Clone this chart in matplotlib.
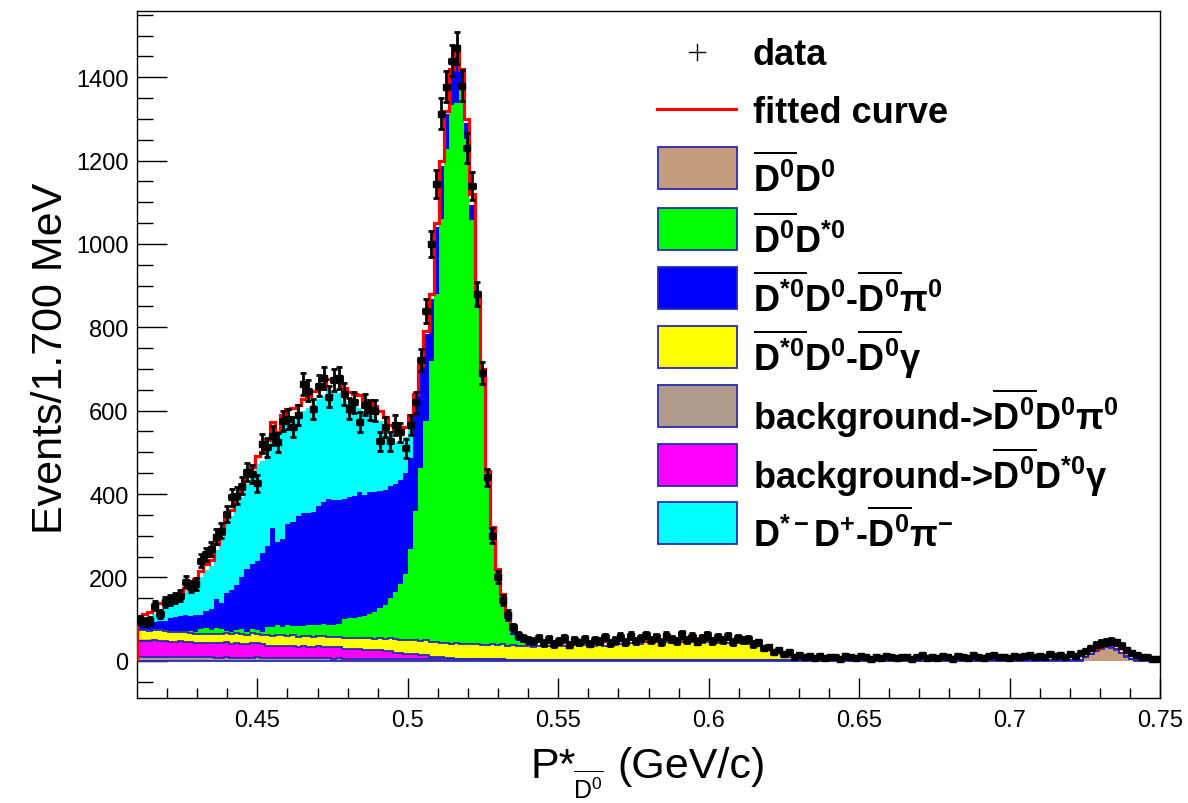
import numpy as np
import matplotlib
matplotlib.use("Agg")
import matplotlib.pyplot as plt
from matplotlib.patches import Rectangle
from matplotlib.lines import Line2D

# ---------------- data (200 bins of 1.7 MeV, 0.41 - 0.75 GeV/c) ----------------
x_lo, x_hi, n_bins = 0.41, 0.75, 200

fit_curve = [
    108, 112, 118, 130, 138, 143, 148, 155, 162, 175,
    182, 196, 215, 232, 242, 280, 305, 345, 362, 392,
    412, 445, 465, 490, 500, 530, 572, 548, 590, 604,
    606, 614, 628, 636, 648, 652, 660, 676, 676, 670,
    655, 645, 640, 638, 625, 618, 612, 598, 585, 565,
    552, 548, 560, 590, 640, 710, 790, 880, 1050, 1200,
    1320, 1420, 1465, 1420, 1300, 1120, 880, 700, 455, 320,
    220, 160, 115, 75, 58, 53, 52, 50, 48, 47,
    46, 45, 46, 44, 45, 46, 45, 47, 46, 45,
    46, 47, 45, 48, 50, 52, 51, 53, 52, 50,
    52, 53, 51, 52, 54, 53, 52, 51, 53, 54,
    52, 53, 54, 52, 51, 53, 52, 50, 47, 46,
    44, 38, 33, 28, 24, 20, 17, 14, 12, 11,
    10, 9, 9, 9, 8, 9, 8, 8, 9, 8,
    8, 8, 9, 8, 8, 8, 7, 8, 8, 8,
    8, 7, 8, 8, 9, 8, 8, 7, 8, 8,
    9, 10, 9, 9, 9, 8, 9, 10, 10, 9,
    9, 9, 10, 9, 10, 10, 10, 11, 11, 12,
    12, 12, 13, 14, 16, 20, 26, 31, 36, 40,
    42, 38, 30, 22, 15, 11, 9, 8, 7, 6]

data_counts = [
    98, 92, 96, 132, 112, 140, 146, 150, 156, 190,
    178, 184, 240, 255, 268, 298, 312, 352, 392, 396,
    420, 452, 448, 426, 520, 512, 540, 524, 576, 580,
    560, 590, 664, 648, 604, 660, 678, 633, 673, 678,
    640, 605, 620, 572, 614, 602, 600, 526, 560, 526,
    566, 548, 510, 566, 620, 722, 840, 1000, 1144, 1313,
    1377, 1440, 1470, 1380, 1230, 1140, 880, 690, 440, 300,
    200, 145, 110, 80, 62, 55, 50, 48, 55, 42,
    52, 40, 48, 55, 38, 50, 44, 53, 41, 49,
    47, 56, 42, 50, 58, 45, 60, 48, 55, 62,
    49, 57, 44, 60, 52, 47, 63, 50, 58, 46,
    55, 61, 48, 57, 50, 59, 45, 54, 49, 52,
    40, 44, 30, 33, 20, 26, 15, 20, 10, 14,
    8, 12, 7, 11, 6, 10, 9, 5, 12, 8,
    6, 11, 9, 5, 10, 7, 12, 8, 6, 9,
    10, 5, 8, 13, 7, 9, 6, 11, 8, 5,
    12, 9, 7, 14, 10, 6, 11, 13, 8, 10,
    7, 12, 9, 11, 14, 8, 12, 10, 15, 11,
    13, 10, 16, 12, 18, 24, 30, 38, 42, 45,
    48, 44, 36, 26, 18, 13, 10, 8, 5, 3]

# D0bar D0 (brown)
d0bar_d0 = [0] * 185 + [8, 16, 24, 29, 32, 31, 26, 18, 10, 4] + [0] * 5

# background -> D0bar D0 pi0 (grey-brown)
bkg_d0d0pi0 = [
    10, 10, 9, 10, 10, 9, 10, 9, 9, 10,
    9, 9, 8, 9, 8, 7, 7, 8, 7, 7,
    6, 7, 7, 8, 7, 7, 6, 7, 7, 6,
    7, 6, 7, 6, 6, 7, 6, 6, 5, 6,
    5, 4, 5, 4, 4, 5, 4, 4, 4, 3,
    4, 4, 3, 4, 3, 3, 4, 3, 3, 3,
    3, 3, 3, 3, 2, 3, 3, 2, 3, 2,
    2, 3, 2, 2, 2, 2, 2, 2, 2, 2,
    2, 2, 1, 2, 2, 2, 1, 2, 2, 2,
    2, 1, 2, 2, 2, 1, 2, 2, 1, 2,
    2, 2, 1, 2, 2, 1, 2, 2, 2, 1,
    2, 2, 1, 2, 1, 2, 2, 1, 2, 1,
    1, 2, 1, 1, 2, 1, 1, 1, 2, 1,
    1, 1, 1, 2, 1, 1, 1, 1, 1, 1,
    1, 1, 2, 1, 1, 1, 1, 1, 1, 1,
    1, 1, 1, 1, 1, 2, 1, 1, 1, 1,
    1, 1, 1, 1, 1, 1, 1, 2, 1, 1,
    1, 1, 1, 1, 1, 1, 1, 1, 1, 1,
    1, 1, 1, 1, 1, 1, 1, 1, 1, 1,
    1, 1, 1, 1, 1, 1, 1, 1, 1, 1]

# background -> D0bar D*0 gamma (magenta)
bkg_d0dst0gamma = [
    38, 37, 38, 39, 37, 38, 36, 37, 38, 36,
    35, 34, 35, 33, 34, 36, 35, 37, 34, 36,
    35, 33, 35, 34, 33, 29, 30, 28, 29, 30,
    28, 27, 29, 28, 27, 29, 28, 27, 28, 26,
    23, 24, 22, 23, 22, 21, 22, 21, 20, 21,
    15, 14, 13, 13, 12, 11, 10, 7, 6, 5,
    4, 3, 2, 2, 2, 1, 1, 1, 1, 1,
    1] + [0] * 129

# D*0bar D0 - D0bar gamma (yellow)
dst0_gamma = [
    25, 26, 24, 25, 26, 24, 22, 23, 21, 22,
    23, 22, 21, 23, 22, 22, 23, 21, 22, 24,
    23, 22, 24, 23, 22, 25, 24, 26, 25, 24,
    26, 25, 24, 26, 25, 24, 25, 23, 24, 25,
    26, 27, 28, 27, 29, 28, 27, 29, 28, 30,
    32, 31, 33, 32, 34, 33, 35, 34, 36, 35,
    36, 35, 37, 36, 35, 37, 36, 35, 34, 36,
    35, 36, 34, 35, 33, 34, 33, 32, 34, 33,
    33, 34, 35, 34, 33, 35, 34, 36, 35, 34,
    36, 35, 37, 36, 38, 39, 40, 41, 39, 42,
    41, 43, 40, 42, 41, 43, 42, 40, 43, 42,
    41, 42, 43, 41, 42, 40, 42, 41, 40, 39,
    36, 33, 29, 25, 21, 17, 12, 8, 4, 1] + [0] * 70

# D0bar D*0 (green)
d0bar_dst0 = [
    2, 2, 3, 2, 3, 2, 3, 3, 2, 3,
    4, 4, 12, 14, 10, 13, 11, 6, 5, 7,
    12, 8, 10, 9, 8, 20, 22, 24, 21, 25,
    23, 26, 24, 25, 27, 26, 28, 30, 29, 32,
    45, 47, 48, 50, 52, 58, 64, 72, 82, 96,
    115, 135, 160, 218, 311, 415, 527, 675, 835, 1018,
    1184, 1293, 1297, 1332, 1212, 1017, 807, 640, 387, 260,
    162, 102, 57, 25, 12, 7, 3, 2, 1, 1] + [0] * 120

# D*0bar D0 - D0bar pi0 (blue)
dst0_pi0 = [
    11, 13, 14, 17, 20, 23, 32, 34, 37, 38,
    37, 41, 33, 41, 51, 70, 62, 91, 102, 108,
    125, 149, 157, 166, 189, 195, 237, 199, 210, 244,
    248, 263, 271, 270, 272, 285, 295, 301, 299, 297,
    288, 292, 293, 301, 291, 293, 287, 281, 275, 269,
    258, 250, 242, 219, 234, 240, 208, 150, 160, 127,
    86, 77, 110, 40, 40, 35, 28, 22, 18, 15,
    12, 10, 8, 5, 4, 3, 2, 2, 1, 1] + [0] * 120

# D*- D+ - D0bar pi- (cyan)
dstm_dp = [
    0, 3, 8, 18, 28, 37, 38, 43, 48, 59,
    62, 72, 91, 98, 102, 118, 155, 171, 178, 200,
    192, 205, 215, 232, 220, 236, 234, 246, 280, 256,
    246, 236, 244, 252, 260, 256, 252, 260, 263, 256,
    237, 221, 214, 202, 201, 189, 183, 167, 150, 122,
    101, 85, 85, 80, 30, 5] + [0] * 144

xtick_values = [0.45, 0.5, 0.55, 0.6, 0.65, 0.7, 0.75]
xtick_labels = ["0.45", "0.5", "0.55", "0.6", "0.65", "0.7", "0.75"]
ytick_values = [0, 200, 400, 600, 800, 1000, 1200, 1400]

legend_labels = [
    r"$\mathbf{\overline{D^{0}}D^{0}}$",
    r"$\mathbf{\overline{D^{0}}D^{*0}}$",
    r"$\mathbf{\overline{D^{*0}}D^{0}}$-$\mathbf{\overline{D^{0}}}$π$^{\mathbf{0}}$",
    r"$\mathbf{\overline{D^{*0}}D^{0}}$-$\mathbf{\overline{D^{0}}}$γ",
    r"background->$\mathbf{\overline{D^{0}}D^{0}}$π$^{\mathbf{0}}$",
    r"background->$\mathbf{\overline{D^{0}}D^{*0}}$γ",
    r"D$^{\mathbf{*-}}$D$^{\mathbf{+}}$-$\mathbf{\overline{D^{0}}}$π$^{\mathbf{-}}$",
]

# ---------------- style ----------------
plt.rcParams["font.family"] = ["Liberation Sans", "DejaVu Sans"]
plt.rcParams["mathtext.fontset"] = "custom"
plt.rcParams["mathtext.rm"] = "Liberation Sans"
plt.rcParams["mathtext.it"] = "Liberation Sans:italic"
plt.rcParams["mathtext.bf"] = "Liberation Sans:bold"
plt.rcParams["mathtext.sf"] = "Liberation Sans"

W, H = 1188, 804
fig = plt.figure(figsize=(W / 100, H / 100), dpi=100)
ax_l, ax_r, ax_t, ax_b = 137, 1160, 12, 699
ax = fig.add_axes([ax_l / W, 1 - ax_b / H, (ax_r - ax_l) / W, (ax_b - ax_t) / H])

edges = np.linspace(x_lo, x_hi, n_bins + 1)
centers = 0.5 * (edges[:-1] + edges[1:])
bw = edges[1] - edges[0]

navy = "#2a2ab4"
layers = [
    (d0bar_d0, "#c69c7e", True),
    (bkg_d0d0pi0, "#b09a8c", True),
    (bkg_d0dst0gamma, "#ff00ff", True),
    (dst0_gamma, "#ffff00", True),
    (d0bar_dst0, "#00ff00", False),
    (dst0_pi0, "#0000ff", False),
    (dstm_dp, "#00ffff", False),
]
cum = np.zeros(n_bins)
tops = []
for vals, col, outl in layers:
    top = cum + np.asarray(vals, float)
    ax.stairs(top, edges, baseline=cum, fill=True, color=col, lw=0, zorder=1)
    tops.append((top.copy(), outl))
    cum = top
for top, outl in tops:
    if outl:
        ax.stairs(top, edges, color=navy, lw=1.3, zorder=2)

ax.stairs(np.asarray(fit_curve, float), edges, color="#ff0000", lw=2.3, zorder=4)

dc = np.asarray(data_counts, float)
ax.errorbar(centers, dc, yerr=np.sqrt(dc), xerr=bw / 2, fmt="s", ms=4.3,
            color="black", ecolor="black", elinewidth=2.0, capsize=2.2,
            capthick=2.0, zorder=5)

ax.set_xlim(x_lo, x_hi)
ax.set_ylim(-89.5, 1559)
ax.set_xticks(xtick_values)
ax.set_xticklabels(xtick_labels)
ax.set_xticks(np.arange(0.42, 0.7501, 0.01), minor=True)
ax.set_yticks(ytick_values)
ax.set_yticks(np.arange(-50, 1551, 50), minor=True)
ax.tick_params(axis="x", which="major", direction="in", length=14.4, width=1.0,
               labelsize=17, pad=8, top=False)
ax.tick_params(axis="x", which="minor", direction="in", length=7.2, width=1.0, top=False)
ax.tick_params(axis="y", which="major", direction="in", length=21.6, width=1.0,
               labelsize=17, pad=6, right=False)
ax.tick_params(axis="y", which="minor", direction="in", length=11.5, width=1.0, right=False)
for s in ax.spines.values():
    s.set_linewidth(1.0)

# axis titles
fig.text(62 / W, 1 - 358 / H, "Events/1.700 MeV", rotation=90, rotation_mode="anchor",
         ha="center", va="baseline", fontsize=31)
fig.text(530 / W, 1 - 778 / H, "P*", ha="left", va="baseline", fontsize=31)
fig.text(573 / W, 1 - 800 / H, r"$\overline{\mathrm{D}^{0}}$", ha="left", va="baseline",
         fontsize=18)
fig.text(617 / W, 1 - 778 / H, "(GeV/c)", ha="left", va="baseline", fontsize=31)

# legend (drawn by hand, figure pixel coordinates)
def fx(p):
    return p / W

def fy(p):
    return 1 - p / H

text_x = 753
fig.add_artist(Line2D([fx(689), fx(705)], [fy(53), fy(53)], color="black", lw=1.0))
fig.add_artist(Line2D([fx(697), fx(697)], [fy(45), fy(61)], color="black", lw=1.0))
fig.text(fx(text_x), fy(65), "data", fontsize=26, fontweight="bold", va="baseline")
fig.add_artist(Line2D([fx(657), fx(736)], [fy(110), fy(110)], color="#ff0000", lw=2.3))
fig.text(fx(text_x), fy(123), "fitted curve", fontsize=26, fontweight="bold", va="baseline")

box_tops = [148, 209, 268, 327, 386, 445, 503]
box_cols = ["#c69c7e", "#00ff00", "#0000ff", "#ffff00", "#b09a8c", "#ff00ff", "#00ffff"]
for bt, col, lab in zip(box_tops, box_cols, legend_labels):
    fig.add_artist(Rectangle((fx(658), fy(bt + 42)), 79 / W, 42 / H,
                             facecolor=col, edgecolor=navy, lw=1.3,
                             transform=fig.transFigure))
    fig.text(fx(text_x), fy(bt + 44), lab, fontsize=26, fontweight="bold", va="baseline")

fig.savefig("out.png", dpi=100)
